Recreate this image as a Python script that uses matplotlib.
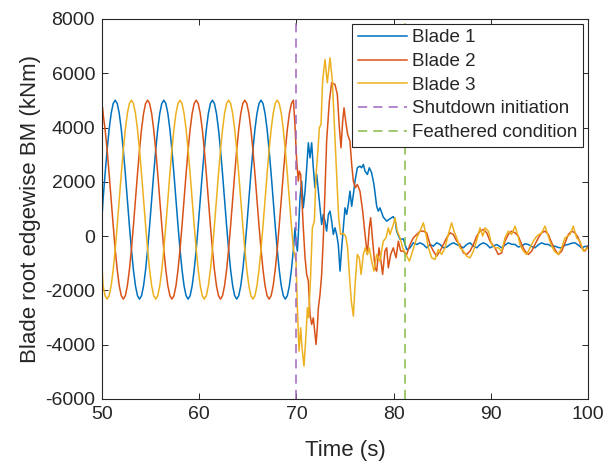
import numpy as np
import matplotlib
matplotlib.use('Agg')
import matplotlib.pyplot as plt

plt.rcParams['font.family'] = ['Liberation Sans', 'DejaVu Sans']
plt.rcParams['axes.unicode_minus'] = False

# ---------------- data ----------------
labels = ['Blade 1', 'Blade 2', 'Blade 3', 'Shutdown initiation', 'Feathered condition']
t_shutdown = 70.0
t_feathered = 81.2

# first samples at the start of the record
blade1_t_start = [50.0]
blade1_v_start = [700]
blade2_t_start = [50.0, 50.04]
blade2_v_start = [2900, 4750]
blade3_t_start = [50.0]
blade3_v_start = [-1100]

# steady rotating part (sample grid 15 deg of rotor azimuth)
t_steady = np.round(50.11 + np.arange(95) * 5 / 24, 3)
blade1_steady = [1345, 2294, 3178, 3937, 4519, 4885,
                 5010, 4885, 4519, 3937, 3178, 2294, 1345, 396, -488, -1247, -1829, -2195,
                 -2320, -2195, -1829, -1247, -488, 396, 1345, 2294, 3178, 3937, 4519, 4885,
                 5010, 4885, 4519, 3937, 3178, 2294, 1345, 396, -488, -1247, -1829, -2195,
                 -2320, -2195, -1829, -1247, -488, 396, 1345, 2294, 3178, 3937, 4519, 4885,
                 5010, 4885, 4519, 3937, 3178, 2294, 1345, 396, -488, -1247, -1829, -2195,
                 -2320, -2195, -1829, -1247, -488, 396, 1345, 2294, 3178, 3937, 4519, 4885,
                 5010, 4885, 4519, 3937, 3178, 2294, 1345, 396, -488, -1247, -1829, -2195,
                 -2320, -2195, -1829, -1247, -488]
blade2_steady = [4519, 3937, 3178, 2294, 1345, 396, -488, -1247, -1829, -2195, -2320,
                 -2195, -1829, -1247, -488, 396, 1345, 2294, 3178, 3937, 4519, 4885,
                 5010, 4885, 4519, 3937, 3178, 2294, 1345, 396, -488, -1247, -1829, -2195,
                 -2320, -2195, -1829, -1247, -488, 396, 1345, 2294, 3178, 3937, 4519, 4885,
                 5010, 4885, 4519, 3937, 3178, 2294, 1345, 396, -488, -1247, -1829, -2195,
                 -2320, -2195, -1829, -1247, -488, 396, 1345, 2294, 3178, 3937, 4519, 4885,
                 5010, 4885, 4519, 3937, 3178, 2294, 1345, 396, -488, -1247, -1829, -2195,
                 -2320, -2195, -1829, -1247, -488, 396, 1345, 2294, 3178, 3937, 4519, 4885,
                 5010]
blade3_steady = [-1829, -2195, -2320, -2195, -1829, -1247, -488, 396, 1345, 2294, 3178,
                 3937, 4519, 4885,
                 5010, 4885, 4519, 3937, 3178, 2294, 1345, 396, -488, -1247, -1829, -2195,
                 -2320, -2195, -1829, -1247, -488, 396, 1345, 2294, 3178, 3937, 4519, 4885,
                 5010, 4885, 4519, 3937, 3178, 2294, 1345, 396, -488, -1247, -1829, -2195,
                 -2320, -2195, -1829, -1247, -488, 396, 1345, 2294, 3178, 3937, 4519, 4885,
                 5010, 4885, 4519, 3937, 3178, 2294, 1345, 396, -488, -1247, -1829, -2195,
                 -2320, -2195, -1829, -1247, -488, 396, 1345, 2294, 3178, 3937, 4519, 4885,
                 5010, 4885, 4519, 3937, 3178, 2294, 1345, 396, -488]

# shutdown transient and feathered part
blade1_t_end = [69.86, 69.96, 70.10, 70.20, 70.37, 70.54, 70.71, 70.89, 71.06, 71.23, 71.40,
                71.57, 71.74, 71.91, 72.09, 72.36, 72.60, 72.77, 72.94, 73.11, 73.29, 73.46,
                73.63, 73.80, 73.97, 74.14, 74.31, 74.49, 74.66, 74.83, 75.00, 75.17, 75.34,
                75.51, 75.69, 75.86, 76.03, 76.27, 76.54, 76.71, 76.89, 77.06, 77.30, 77.50,
                77.74, 77.98, 78.26, 78.43, 78.60, 78.94, 79.29, 79.63, 79.97, 80.15, 80.31,
                80.66, 81.00, 81.35, 81.69, 82.03, 82.38, 82.72, 83.06, 83.40, 83.75, 84.09,
                84.43, 84.78, 85.12, 85.46, 85.81, 86.15, 86.49, 86.83, 87.18, 87.52, 87.86,
                88.21, 88.55, 88.89, 89.24, 89.58, 89.92, 90.26, 90.61, 91.12, 91.46, 91.80,
                92.14, 92.49, 92.83, 93.17, 93.52, 93.86, 94.20, 94.55, 94.89, 95.23, 95.58,
                95.92, 96.26, 96.60, 96.95, 97.29, 97.63, 97.98, 98.32, 98.66, 99.00, 99.35,
                99.69, 100.0]
blade1_v_end = [307, -184, -552, 62, 1412, 2026, 1044, 1658, 2518, 3439, 2886,
                3439, 2518, 1781, 2272, 1290, 430, 798, 553, 184, 798, 921,
                553, 62, 307, 62, -307, -1289, -430, 307, 1044, 798, 1167,
                1658, 1100, 1535, 2026, 2518, 2579, 2518, 2641, 2395, 2272, 2518,
                2333, 1904, 1100, 921, 1044, 700, 553, 640, 720, 600, 184,
                -120, -100, -500, -430, -246, -307, -246, -307, -430, -307, -369,
                -246, -307, -430, -406, -307, -246, -307, -369, -430, -307, -246,
                -369, -430, -307, -246, -307, -430, -369, -307, -430, -330, -246,
                -300, -307, -400, -369, -280, -307, -380, -430, -320, -246, -300,
                -307, -380, -369, -420, -430, -330, -307, -260, -246, -330, -430,
                -380, -369]

blade2_t_end = [69.85, 70.03, 70.20, 70.30, 70.44, 70.58, 70.71, 70.89, 71.06, 71.23, 71.40,
                71.57, 71.74, 71.88, 72.02, 72.15, 72.26, 72.43, 72.60, 72.77, 72.94, 73.11,
                73.39, 73.63, 73.97, 74.21, 74.42, 74.59, 74.76, 74.90, 75.07, 75.27, 75.51,
                75.69, 75.86, 76.06, 76.27, 76.54, 76.82, 77.06, 77.30, 77.50, 77.64, 77.85,
                78.09, 78.26, 78.50, 78.70, 78.87, 79.11, 79.29, 79.46, 79.70, 79.97, 80.25,
                80.49, 80.73, 81.00, 81.35, 81.69, 82.03, 82.38, 82.72, 83.06, 83.40, 83.75,
                84.09, 84.43, 84.78, 85.12, 85.46, 85.81, 86.15, 86.49, 86.83, 87.18, 87.52,
                87.86, 88.21, 88.55, 88.89, 89.24, 89.58, 89.92, 90.43, 90.77, 91.12, 91.46,
                91.80, 92.14, 92.49, 92.83, 93.17, 93.52, 93.86, 94.20, 94.55, 94.89, 95.23,
                95.58, 95.92, 96.26, 96.60, 96.95, 97.29, 97.63, 97.98, 98.32, 98.66, 99.00,
                99.35, 99.69, 100.0]
blade2_v_end = [4114, 2763, 2026, 2395, 2272, 1290, 307, -798, -1412, -1658, -2886,
                -3255, -3009, -3500, -3991, -3377, -2640, -2149, -1412, -61, 1658, 3500,
                4974, 5649, 5588, 5219, 3991, 3255, 4237, 4728, 4237, 3746, 3500,
                2640, 2026, 1781, 1904, 1658, 921, 62, -675, 307, 676, -184,
                -1166, -1289, -430, -921, -1412, -552, -430, -1166, -675, -430, -798,
                -184, -552, -553, -676, -307, -62, 61, 184, 184, 123, -307,
                -553, -737, -553, -307, -62, 123, 61, -185, -307, -614, -676,
                -553, -307, 0, 184, 245, 123, -185, -430, -676, -614, -185,
                61, 184, 123, 0, -307, -553, -676, -553, -307, -62, 123,
                184, 61, -246, -492, -676, -553, -246, 61, 184, 123, -62,
                -430, -553, -369]

blade3_t_end = [69.96, 70.10, 70.27, 70.44, 70.58, 70.78, 70.99, 71.13, 71.26, 71.47, 71.64,
                71.85, 72.02, 72.19, 72.36, 72.53, 72.70, 72.94, 73.18, 73.46, 73.70, 73.90,
                74.14, 74.35, 74.55, 74.83, 75.07, 75.27, 75.45, 75.65, 75.86, 76.06, 76.27,
                76.47, 76.65, 76.89, 77.09, 77.30, 77.50, 77.74, 77.98, 78.26, 78.60, 78.94,
                79.22, 79.46, 79.63, 79.97, 80.14, 80.38, 80.66, 80.93, 81.27, 81.62, 81.96,
                82.38, 82.72, 83.06, 83.33, 83.58, 83.92, 84.26, 84.60, 84.95, 85.29, 85.63,
                85.97, 86.21, 86.49, 86.83, 87.18, 87.52, 87.86, 88.21, 88.62, 88.89, 89.17,
                89.41, 89.75, 90.09, 90.43, 90.77, 91.12, 91.46, 91.80, 92.14, 92.49, 92.76,
                93.00, 93.35, 93.69, 94.03, 94.38, 94.72, 95.23, 95.58, 95.85, 96.19, 96.54,
                96.95, 97.29, 97.63, 98.15, 98.49, 98.83, 99.18, 99.52, 100.0]
blade3_v_end = [-900, -2640, -4236, -3377, -4114, -4789, -3623, -2640, -3009, -1412, 307,
                553, 2272, 3009, 3991, 4114, 5710, 6509, 5649, 6570, 5710, 4114,
                2272, 676, 62, 100, 0, -430, -1412, -2395, -2947, -1658, -675,
                -798, -1412, -675, -430, -675, -430, -921, -1289, -675, -921, -184,
                -61, 307, 62, 430, 676, 184, -61, -430, -675, -921, -553,
                -62, 184, 491, 61, -430, -799, -860, -492, -676, -430, 61,
                491, 184, -62, -430, -553, -737, -799, -553, -62, 307, 0,
                307, 184, -307, -430, -430, -553, -62, 184, 61, 368, 61,
                -307, -553, -676, -430, -185, 0, 123, 368, 61, -307, -553,
                -676, -430, -62, 61, 368, -62, -185, -553, -430]

# ---------------- figure ----------------
c_b1 = '#0072BD'
c_b2 = '#D95319'
c_b3 = '#EDB120'
c_sd = '#A066C0'
c_fe = '#86BA45'
ink = '#262626'

fig = plt.figure(figsize=(6.06, 4.61), dpi=100)
ax = fig.add_axes([0.1683, 0.1345, 0.8020, 0.8243])

blades = [
    (blade1_t_start, blade1_v_start, blade1_steady, blade1_t_end, blade1_v_end, c_b1),
    (blade2_t_start, blade2_v_start, blade2_steady, blade2_t_end, blade2_v_end, c_b2),
    (blade3_t_start, blade3_v_start, blade3_steady, blade3_t_end, blade3_v_end, c_b3),
]
handles = []
for (ts, vs, vst, te, ve, col), lab in zip(blades, labels[:3]):
    t = np.concatenate([ts, t_steady, te])
    v = np.concatenate([vs, vst, ve])
    h, = ax.plot(t, v, color=col, lw=1.1, label=lab)
    handles.append(h)

h4 = ax.axvline(t_shutdown, color=c_sd, lw=1.1, ls=(0, (6, 4)), label=labels[3])
h5 = ax.axvline(t_feathered, color=c_fe, lw=1.1, ls=(0, (6, 4)), label=labels[4])
handles += [h4, h5]

ax.set_xlim(50, 100)
ax.set_ylim(-6000, 8000)
ax.set_xticks(np.arange(50, 101, 10))
ax.set_yticks(np.arange(-6000, 8001, 2000))
ax.tick_params(direction='in', top=True, right=True, length=4, width=0.7,
               colors=ink, labelsize=14, pad=5)
for s in ax.spines.values():
    s.set_color(ink)
    s.set_linewidth(0.8)

ax.set_xlabel('Time (s)', fontsize=16, color=ink, labelpad=12)
ax.set_ylabel('Blade root edgewise BM (kNm)', fontsize=16, color=ink, labelpad=3)

leg = ax.legend(handles=handles, loc='upper right', fontsize=13.5, frameon=True,
                fancybox=False, framealpha=1, edgecolor=ink, borderaxespad=0.25,
                handlelength=2.6, handletextpad=0.3, labelspacing=0.35, borderpad=0.3)
leg.get_frame().set_linewidth(0.8)
for txt in leg.get_texts():
    txt.set_color(ink)

fig.savefig('out.png', dpi=100)
